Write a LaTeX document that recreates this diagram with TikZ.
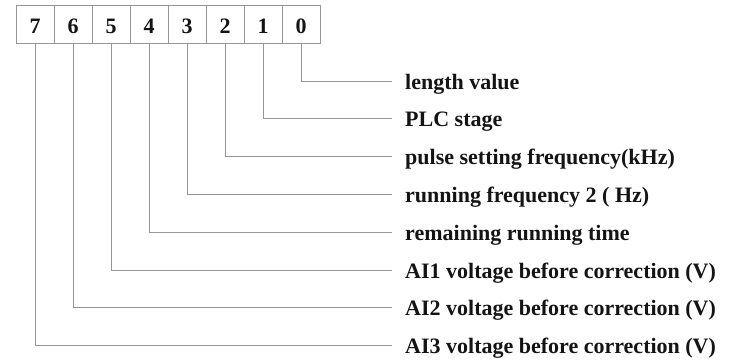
\documentclass[tikz,border=0pt]{standalone}
\usepackage{fontspec}
\setmainfont{Liberation Serif}
\definecolor{linegray}{RGB}{150,150,150}
\definecolor{inkblack}{RGB}{20,20,20}
\tikzset{
  cell/.style={draw=linegray, line width=1pt, minimum width=38pt, minimum height=38pt,
    inner sep=0pt, text=inkblack, font=\bfseries\fontsize{22}{22}\selectfont},
  digit/.style={inner sep=0pt, text=inkblack, font=\bfseries\fontsize{22}{22}\selectfont},
  lbl/.style={anchor=base west, inner xsep=13pt, inner ysep=0pt, text=inkblack,
    font=\bfseries\fontsize{22}{22}\selectfont},
  conn/.style={draw=linegray, line width=1pt}
}
\begin{document}
\begin{tikzpicture}[x=1pt,y=-1pt]
\useasboundingbox (0,0) rectangle (740,360);
% register cells
\foreach \b [evaluate=\b as \cx using {35+38*(7-\b)}] in {7,6,5,4,3,2,1,0}{
  \node[cell] (c\b) at (\cx,24) {};
  \node[digit, anchor=base] (d\b) at (\cx,33) {\b};
}
% end points of the connectors
\foreach \b [evaluate=\b as \py using {81+37.8*\b}] in {0,1,2,3,4,5,6,7}{
  \coordinate (p\b) at (392,\py);
}
\node[lbl] (l0) at ([yshift=-8pt]p0) {length value};
\node[lbl] (l1) at ([yshift=-8pt]p1) {PLC stage};
\node[lbl] (l2) at ([yshift=-8pt]p2) {pulse setting frequency(kHz)};
\node[lbl] (l3) at ([yshift=-8pt]p3) {running frequency 2 ( Hz)};
\node[lbl] (l4) at ([yshift=-8pt]p4) {remaining running time};
\node[lbl] (l5) at ([yshift=-8pt]p5) {AI1 voltage before correction (V)};
\node[lbl] (l6) at ([yshift=-8pt]p6) {AI2 voltage before correction (V)};
\node[lbl] (l7) at ([yshift=-8pt]p7) {AI3 voltage before correction (V)};
\foreach \b in {0,...,7}{
  \draw[conn] (c\b.south) |- (p\b);
}
\end{tikzpicture}
\end{document}
